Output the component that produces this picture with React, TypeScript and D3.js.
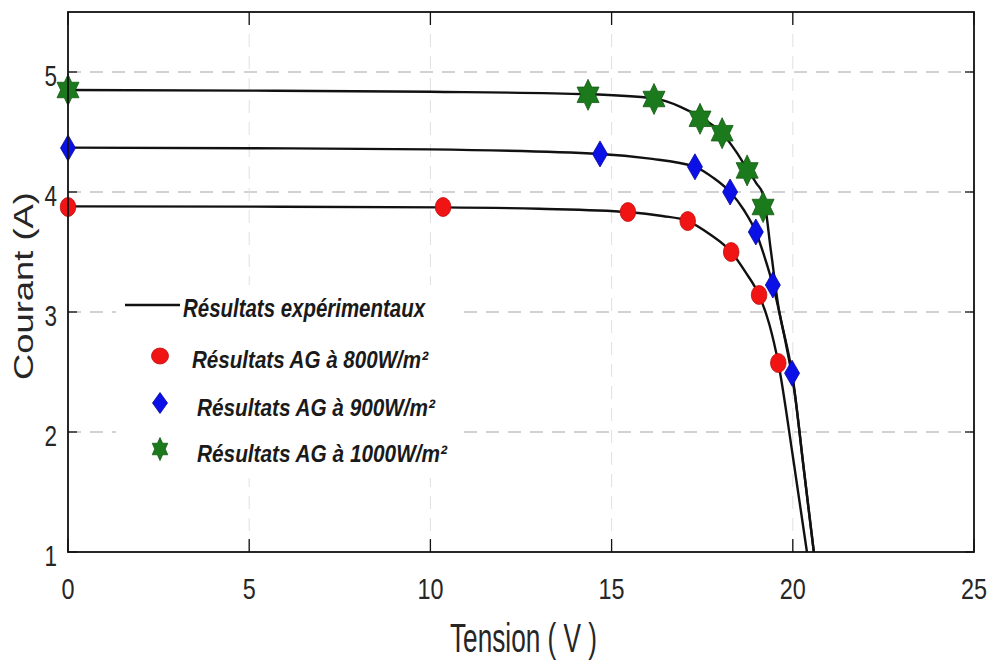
import React from 'react';
import * as d3 from 'd3';

// ---- Data ----
const xTicks = [0, 5, 10, 15, 20, 25];
const yTicks = [1, 2, 3, 4, 5];

// Experimental I-V curves (black lines): [V, I]
const exp800: [number, number][] = [
  [0, 3.88], [5, 3.878], [10.35, 3.872], [13, 3.86], [15.45, 3.833], [16.4, 3.8],
  [17.1, 3.758], [17.7, 3.65], [18.3, 3.5], [18.7, 3.33], [19.07, 3.14], [19.35, 2.9],
  [19.6, 2.575], [20.0, 1.8], [20.39, 1.0],
];
const exp900: [number, number][] = [
  [0, 4.37], [5, 4.365], [10, 4.355], [14.68, 4.317], [16, 4.28], [17.3, 4.21],
  [17.8, 4.12], [18.27, 4.0], [18.65, 3.85], [18.98, 3.667], [19.22, 3.46], [19.45, 3.225],
  [19.72, 2.87], [19.98, 2.49], [20.3, 1.7], [20.58, 1.0],
];
const exp1000: [number, number][] = [
  [0, 4.85], [5, 4.845], [10, 4.835], [14.35, 4.815], [16.17, 4.78], [16.9, 4.71],
  [17.44, 4.625], [18.05, 4.49], [18.45, 4.33], [18.74, 4.19], [19.0, 4.07], [19.18, 3.98],
  [19.4, 3.5], [19.6, 3.05], [19.8, 2.75], [20.05, 2.33], [20.3, 1.7], [20.58, 1.0],
];

// Genetic-algorithm results (markers): [V, I]
const ag800: [number, number][] = [
  [0, 3.875], [10.35, 3.875], [15.45, 3.833], [17.1, 3.758], [18.3, 3.5], [19.07, 3.142], [19.6, 2.575],
];
const ag900: [number, number][] = [
  [0, 4.367], [14.68, 4.317], [17.3, 4.21], [18.27, 4.0], [18.98, 3.667], [19.45, 3.225], [19.98, 2.49],
];
const ag1000: [number, number][] = [
  [0, 4.85], [14.35, 4.81], [16.17, 4.775], [17.44, 4.61], [18.05, 4.49], [18.74, 4.18], [19.18, 3.875],
];

const legendLine = 'Résultats expérimentaux';
const legendAG = ['Résultats AG à 800W/m²', 'Résultats AG à 900W/m²', 'Résultats AG à 1000W/m²'];
const xLabel = 'Tension ( V )';
const yLabel = 'Courant (A)';

const RED = '#f01414';
const BLUE = '#0a10e6';
const GREEN = '#1b7a1b';
const FONT = "'Liberation Sans', Arial, Helvetica, sans-serif";

function hexagram(cx: number, cy: number, rx: number, ry: number): string {
  const pts: string[] = [];
  for (let k = 0; k < 12; k++) {
    const a = ((-90 + k * 30) * Math.PI) / 180;
    const r = k % 2 === 0 ? 1 : 1 / Math.sqrt(3);
    pts.push(`${cx + rx * r * Math.cos(a)},${cy + ry * r * Math.sin(a)}`);
  }
  return 'M' + pts.join('L') + 'Z';
}
function diamond(cx: number, cy: number, hw: number, hh: number): string {
  return `M${cx},${cy - hh}L${cx + hw},${cy}L${cx},${cy + hh}L${cx - hw},${cy}Z`;
}

export default function App() {
  const W = 994, H = 660;
  const L = 68, R = 974, T = 12, B = 552;
  const x = d3.scaleLinear().domain([0, 25]).range([L, R]);
  const y = d3.scaleLinear().domain([1, 5.5]).range([B, T]);
  const line = d3
    .line<[number, number]>()
    .x((d) => x(d[0]))
    .y((d) => y(d[1]))
    .curve(d3.curveMonotoneX);

  const gridColor = '#c4c4c4';
  const legendRows = [
    { y: 368, x: 192, len: 236 },
    { y: 416, x: 197, len: 238 },
    { y: 462, x: 197, len: 250 },
  ];

  return (
    <svg
      width={W}
      height={H}
      viewBox={`0 0 ${W} ${H}`}
      style={{ position: 'absolute', left: 0, top: 0, background: '#fff' }}
    >
      <rect x={0} y={0} width={W} height={H} fill="#fff" />
      <defs>
        <clipPath id="plot">
          <rect x={L} y={T} width={R - L} height={B - T} />
        </clipPath>
      </defs>

      {/* grid */}
      {yTicks.filter((t) => t > 1).map((t) => (
        <line key={'gy' + t} x1={L} x2={R} y1={y(t)} y2={y(t)} stroke={gridColor} strokeWidth={1.3} strokeDasharray="13,9" />
      ))}
      {xTicks.filter((t) => t > 0 && t < 25).map((t) => (
        <line key={'gx' + t} x1={x(t)} x2={x(t)} y1={T} y2={B} stroke="#e0e0e0" strokeWidth={1} strokeDasharray="13,9" />
      ))}

      {/* legend box (white, no border) */}
      <rect x={116} y={285} width={346} height={193} fill="#fff" />

      {/* experimental curves */}
      <g clipPath="url(#plot)" fill="none" stroke="#111" strokeWidth={2.4}>
        <path d={line(exp800) || ''} />
        <path d={line(exp900) || ''} />
        <path d={line(exp1000) || ''} />
      </g>

      {/* markers */}
      <g>
        {ag800.map((d, i) => (
          <ellipse key={'r' + i} cx={x(d[0])} cy={y(d[1])} rx={7.8} ry={9.5} fill={RED} stroke="#c01010" strokeWidth={0.8} />
        ))}
        {ag900.map((d, i) => (
          <path key={'b' + i} d={diamond(x(d[0]), y(d[1]), 7.5, 13)} fill={BLUE} stroke="#0808a0" strokeWidth={0.8} />
        ))}
        {ag1000.map((d, i) => (
          <path key={'g' + i} d={hexagram(x(d[0]), y(d[1]), 12.7, 15.5)} fill={GREEN} stroke="#145a14" strokeWidth={0.8} />
        ))}
      </g>

      {/* axes box */}
      <rect x={L} y={T} width={R - L} height={B - T} fill="none" stroke="#111" strokeWidth={1.8} />

      {/* ticks */}
      {xTicks.map((t) => (
        <g key={'tx' + t}>
          <line x1={x(t)} x2={x(t)} y1={B} y2={B - 13} stroke="#111" strokeWidth={1.3} />
          <line x1={x(t)} x2={x(t)} y1={T} y2={T + 13} stroke="#111" strokeWidth={1.3} />
          <text
            x={x(t)}
            y={599}
            textAnchor="middle"
            fontFamily={FONT}
            fontSize={30}
            fill="#262626"
            textLength={String(t).length * 13}
            lengthAdjust="spacingAndGlyphs"
          >
            {t}
          </text>
        </g>
      ))}
      {yTicks.map((t) => (
        <g key={'ty' + t}>
          <line x1={L} x2={L + 9} y1={y(t)} y2={y(t)} stroke="#111" strokeWidth={1.3} />
          <line x1={R} x2={R - 9} y1={y(t)} y2={y(t)} stroke="#111" strokeWidth={1.3} />
          <text
            x={57}
            y={y(t) + 14}
            textAnchor="end"
            fontFamily={FONT}
            fontSize={29}
            fill="#262626"
            textLength={12.5}
            lengthAdjust="spacingAndGlyphs"
          >
            {t}
          </text>
        </g>
      ))}

      {/* axis labels */}
      <text
        x={450}
        y={652}
        fontFamily={FONT}
        fontSize={41}
        fill="#262626"
        textLength={147}
        lengthAdjust="spacingAndGlyphs"
      >
        {xLabel}
      </text>
      <text
        transform={`translate(33,380) rotate(-90)`}
        x={0}
        y={0}
        fontFamily={FONT}
        fontSize={27}
        fill="#262626"
        textLength={188}
        lengthAdjust="spacingAndGlyphs"
      >
        {yLabel}
      </text>

      {/* legend */}
      <line x1={125} x2={180} y1={305} y2={305} stroke="#111" strokeWidth={2.4} />
      <text x={183} y={317} fontFamily={FONT} fontSize={25} fontWeight="bold" fontStyle="italic" fill="#1a1a1a" textLength={242} lengthAdjust="spacingAndGlyphs">
        {legendLine}
      </text>

      <ellipse cx={160} cy={356} rx={8.5} ry={8} fill={RED} stroke="#c01010" strokeWidth={0.8} />
      <path d={diamond(160, 403, 7.5, 10.5)} fill={BLUE} stroke="#0808a0" strokeWidth={0.8} />
      <path d={hexagram(160, 449, 9, 11.5)} fill={GREEN} stroke="#145a14" strokeWidth={0.8} />

      {legendRows.map((r, i) => (
        <text
          key={'lg' + i}
          x={r.x}
          y={r.y}
          fontFamily={FONT}
          fontSize={24}
          fontWeight="bold"
          fontStyle="italic"
          fill="#1a1a1a"
          textLength={r.len}
          lengthAdjust="spacingAndGlyphs"
        >
          {legendAG[i]}
        </text>
      ))}
    </svg>
  );
}
